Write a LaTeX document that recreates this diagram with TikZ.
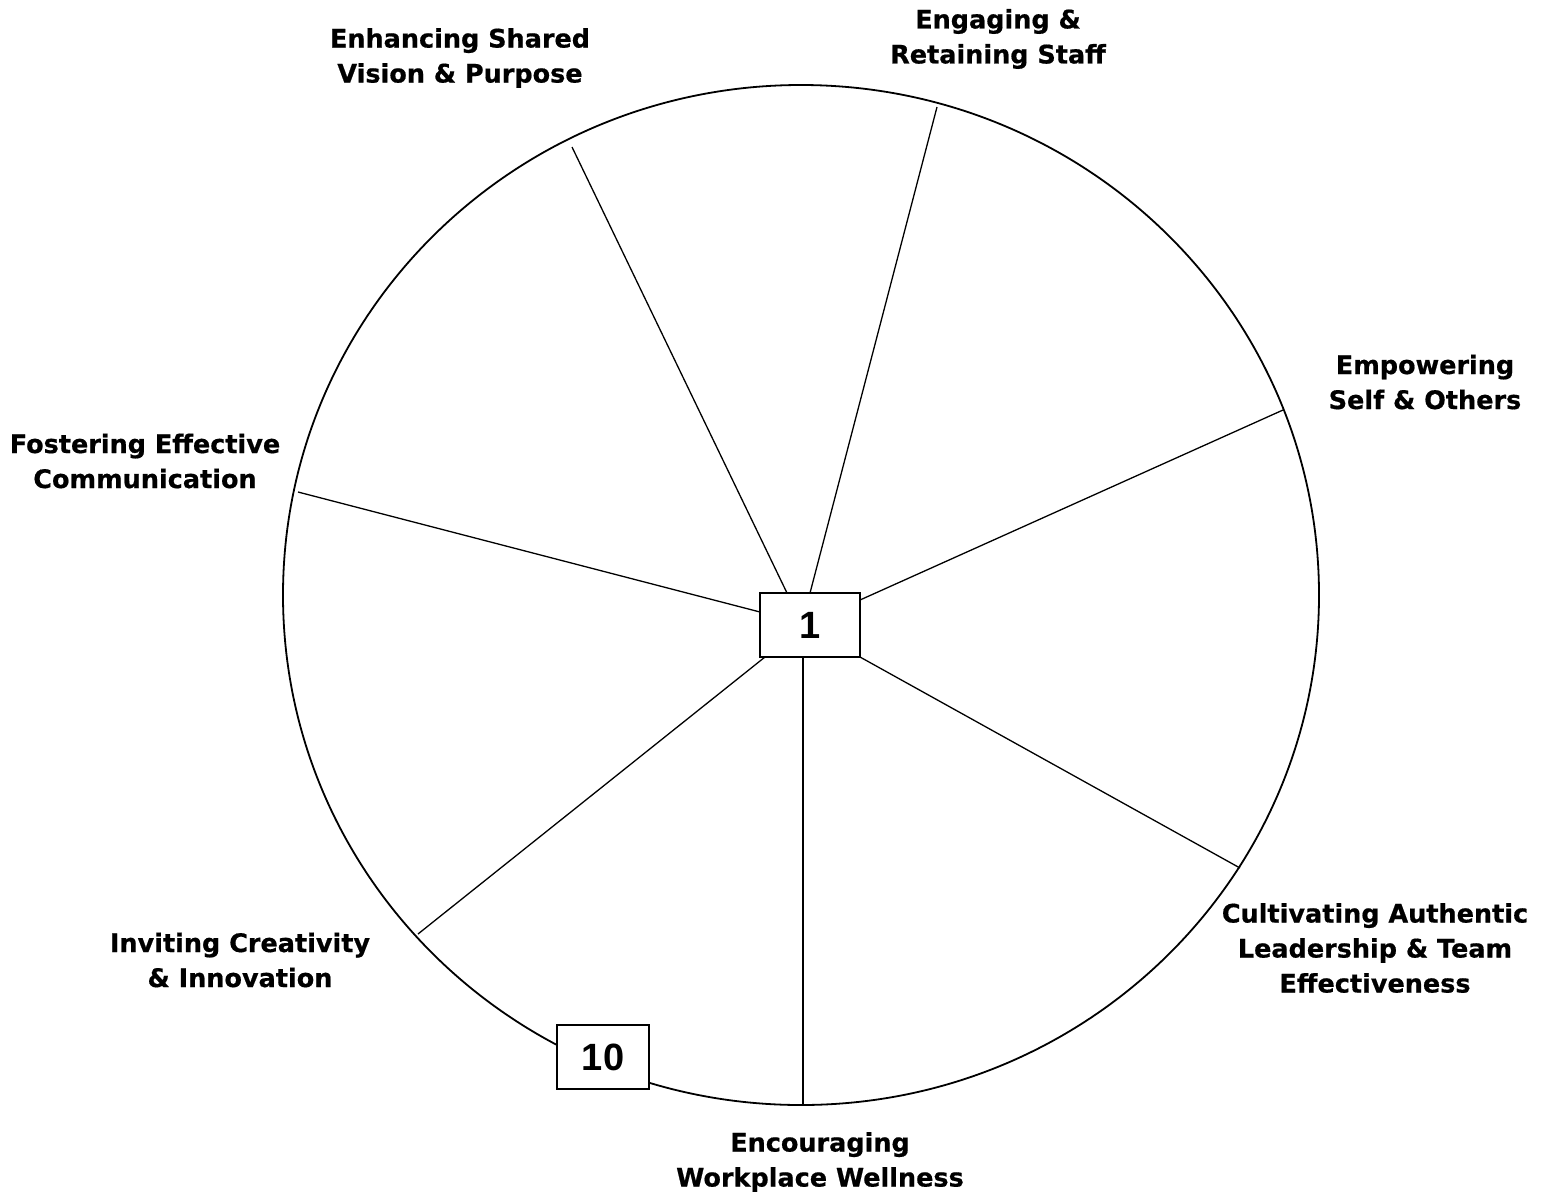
\documentclass[tikz,border=0pt]{standalone}
\usepackage{fontspec}
\setmainfont{DejaVu Sans}
\newfontfamily\numfont{Liberation Sans Bold}
\newfontfamily\lblfont[FakeBold=0.6]{DejaVu Sans Bold}
\begin{document}
\begin{tikzpicture}[x=1pt,y=-1pt,
  lbl/.style={font=\lblfont\fontsize{25.5}{35}\selectfont, align=center, inner sep=0pt},
  numbox/.style={draw, line width=2pt, fill=white, font=\numfont\fontsize{38}{40}\selectfont, inner sep=0pt},
  spoke/.style={line width=1.3pt}]
\useasboundingbox (0,0) rectangle (1550,1195);
\draw[line width=1.8pt] (801,595) ellipse [x radius=518, y radius=510];
% spoke endpoints
\coordinate (s1) at (810,593);  \coordinate (e1) at (937,107);
\coordinate (s2) at (787,593);  \coordinate (e2) at (572,147);
\coordinate (s3) at (760,612);  \coordinate (e3) at (298,492);
\coordinate (s4) at (860,600);  \coordinate (e4) at (1283,410);
\coordinate (s5) at (860,657);  \coordinate (e5) at (1240,868);
\coordinate (s6) at (803,657);  \coordinate (e6) at (803,1105);
\coordinate (s7) at (765,657);  \coordinate (e7) at (418,934);
\foreach \i in {1,...,7} \draw[spoke] (s\i) -- (e\i);
% boxes
\node[numbox, minimum width=100pt, minimum height=64pt] (b1) at (810,625) {\raisebox{-4pt}{1}};
\node[numbox, minimum width=92pt, minimum height=64pt] (b10) at (603,1057) {\raisebox{-3pt}{10}};
% labels
\node[lbl] (l1) at (460,58) {Enhancing Shared\\Vision \& Purpose};
\node[lbl] (l2) at (998,39) {Engaging \&\\Retaining Staff};
\node[lbl] (l3) at (1425,382) {Empowering\\Self \& Others};
\node[lbl] (l4) at (145,461) {Fostering Effective\\Communication};
\node[lbl] (l5) at (1375,948) {Cultivating Authentic\\Leadership \& Team\\Effectiveness};
\node[lbl] (l6) at (820,1162) {Encouraging\\Workplace Wellness};
\node[lbl] (l7) at (240,960) {Inviting Creativity\\\& Innovation};
\end{tikzpicture}
\end{document}
